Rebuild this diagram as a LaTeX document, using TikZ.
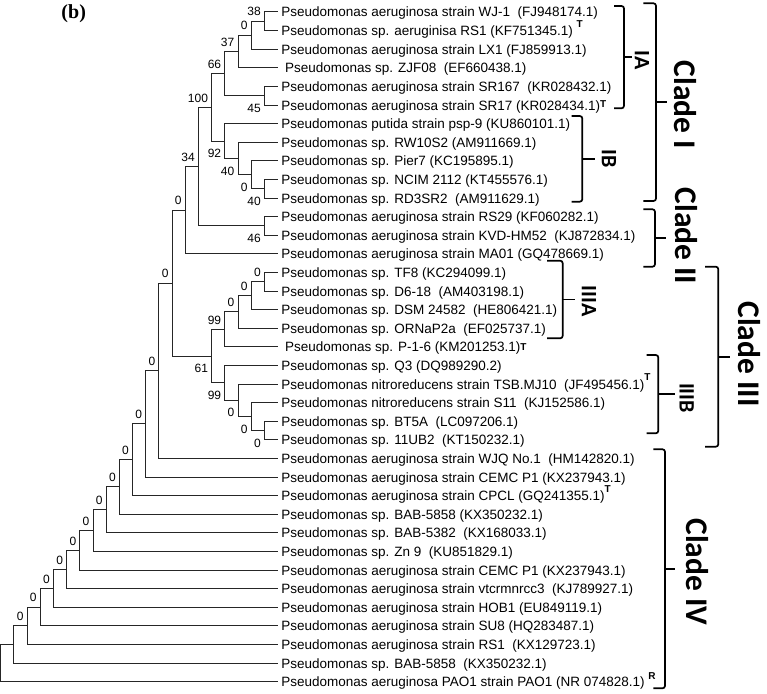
\documentclass[tikz,border=0pt]{standalone}
\usepackage{fontspec}
\setmainfont{Liberation Sans}
\newfontfamily\cladefont{Carlito}
\newfontfamily\panelfont{Liberation Serif}
\usetikzlibrary{calc}
\newcommand{\typemark}[2][8.5pt]{\raisebox{#1}{\fontsize{10}{10}\selectfont\bfseries #2}}

\begin{document}
\begin{tikzpicture}[
    x = 1pt, y = -1pt,
    branch/.style = {line width = 1pt, black!85},
    leaf/.style = {anchor = base west, inner sep = 0pt, xshift = 3.5pt, yshift = -5pt, font = \fontsize{13.5}{14}\selectfont},
    bsa/.style = {anchor = south east, inner sep = 0pt, xshift = -3.5pt, yshift = 5pt, font = \fontsize{12}{12}\selectfont},
    bsb/.style = {anchor = north east, inner sep = 0pt, xshift = -3.5pt, yshift = -8pt, font = \fontsize{12}{12}\selectfont},
    brk/.style = {line width = 1.7pt, rounded corners = 2.5pt},
    clade/.style = {rotate = -90, inner sep = 0pt, font = \cladefont\bfseries\fontsize{31.5}{32}\selectfont},
    sub/.style = {rotate = -90, inner sep = 0pt, font = \cladefont\bfseries\fontsize{22}{22}\selectfont},
]
\useasboundingbox (0,0) rectangle (767,693);

% tree: level on x, leaf row on y
\begin{scope}[xshift = 0.8pt, yshift = 6.6pt, x = 13.18pt, y = -18.6pt]
\foreach \i in {1,...,37} \coordinate (t\i) at (21,\i);
% clade I
\coordinate (n12) at (20,1.5);
\coordinate (n123) at (19,2.25);
\coordinate (n1234) at (18,3.125);
\coordinate (n56) at (20,5.5);
\coordinate (cIA) at (17,4.3125);
\coordinate (n1011) at (20,10.5);
\coordinate (n9) at (19,9.75);
\coordinate (n8) at (18,8.875);
\coordinate (cIB) at (17,7.9375);
\coordinate (cI) at (16,6.125);
% clade II
\coordinate (n1213) at (20,12.5);
\coordinate (n34) at (15,9.3125);
\coordinate (bA) at (14,11.65625);
% clade III
\coordinate (n1516) at (20,15.5);
\coordinate (n17) at (19,16.25);
\coordinate (n18) at (18,17.125);
\coordinate (cIIIA) at (17,18.0625);
\coordinate (n2324) at (20,23.5);
\coordinate (n22) at (19,22.75);
\coordinate (n21) at (18,21.875);
\coordinate (cIIIB) at (17,20.9375);
\coordinate (cIII) at (16,19.5);
% backbone
\coordinate (bB) at (13,15.578125);
\coordinate (bC) at (12,20.2890625);
\coordinate (bD) at (11,23.14453);
\coordinate (bE) at (10,25.07227);
\coordinate (bF) at (9,26.53613);
\coordinate (bG) at (8,27.76807);
\coordinate (bH) at (7,28.88403);
\coordinate (bI) at (6,29.94202);
\coordinate (bJ) at (5,30.97101);
\coordinate (bK) at (4,31.98550);
\coordinate (bL) at (3,32.99275);
\coordinate (bM) at (2,33.99638);
\coordinate (bN) at (1,34.99819);
\coordinate (root) at (0,35.99909);
\end{scope}

\foreach \p/\c in {n12/t1, n12/t2, n123/n12, n123/t3, n1234/n123, n1234/t4, n56/t5, n56/t6,
    cIA/n1234, cIA/n56, n1011/t10, n1011/t11, n9/t9, n9/n1011, n8/t8, n8/n9, cIB/t7, cIB/n8,
    cI/cIA, cI/cIB, n1213/t12, n1213/t13, n34/cI, n34/n1213, bA/n34, bA/t14,
    n1516/t15, n1516/t16, n17/n1516, n17/t17, n18/n17, n18/t18, cIIIA/n18, cIIIA/t19,
    n2324/t23, n2324/t24, n22/t22, n22/n2324, n21/t21, n21/n22, cIIIB/t20, cIIIB/n21,
    cIII/cIIIA, cIII/cIIIB, bB/bA, bB/cIII, bC/bB, bC/t25, bD/bC, bD/t26, bE/bD, bE/t27,
    bF/bE, bF/t28, bG/bF, bG/t29, bH/bG, bH/t30, bI/bH, bI/t31, bJ/bI, bJ/t32,
    bK/bJ, bK/t33, bL/bK, bL/t34, bM/bL, bM/t35, bN/bM, bN/t36, root/bN, root/t37}
    \draw[branch] (\p) |- (\c);

% bootstrap values
\node[bsa] (v1) at (n12) {38};
\node[bsa] (v2) at (n123) {0};
\node[bsa] (v3) at (n1234) {37};
\node[bsb] (v4) at (n56) {45};
\node[bsa] (v5) at (cIA) {66};
\node[bsb] (v6) at (n1011) {40};
\node[bsb] (v7) at (n9) {0};
\node[bsb] (v8) at (n8) {40};
\node[bsb] (v9) at (cIB) {92};
\node[bsa] (v10) at (cI) {100};
\node[bsb] (v11) at (n1213) {46};
\node[bsa] (v12) at (n34) {34};
\node[bsa] (v13) at (bA) {0};
\node[bsa] (v14) at (n1516) {0};
\node[bsa] (v15) at (n17) {0};
\node[bsa] (v16) at (n18) {0};
\node[bsa] (v17) at (cIIIA) {99};
\node[bsb] (v18) at (n2324) {0};
\node[bsb] (v19) at (n22) {0};
\node[bsb] (v20) at (n21) {0};
\node[bsb] (v21) at (cIIIB) {99};
\node[bsb] (v22) at (cIII) {61};
\foreach \b in {bB,bC,bD,bE,bF,bG,bH,bI,bJ,bK,bL,bM}
    \node[bsa] (v\b) at (\b) {0};

% strain names
\node[leaf] (l1) at (t1) {Pseudomonas aeruginosa strain WJ-1~ (FJ948174.1)};
\node[leaf] (l2) at (t2) {Pseudomonas sp. aeruginisa RS1 (KF751345.1) \typemark{T}};
\node[leaf] (l3) at (t3) {Pseudomonas aeruginosa strain LX1 (FJ859913.1)};
\node[leaf] (l4) at (t4) {~Pseudomonas sp. ZJF08~ (EF660438.1)};
\node[leaf] (l5) at (t5) {Pseudomonas aeruginosa strain SR167~ (KR028432.1)};
\node[leaf] (l6) at (t6) {Pseudomonas aeruginosa strain SR17 (KR028434.1)\typemark[3pt]{T}};
\node[leaf] (l7) at (t7) {Pseudomonas putida strain psp-9 (KU860101.1)};
\node[leaf] (l8) at (t8) {Pseudomonas sp. RW10S2 (AM911669.1)};
\node[leaf] (l9) at (t9) {Pseudomonas sp. Pier7 (KC195895.1)};
\node[leaf] (l10) at (t10) {Pseudomonas sp. NCIM 2112 (KT455576.1)};
\node[leaf] (l11) at (t11) {Pseudomonas sp. RD3SR2~ (AM911629.1)};
\node[leaf] (l12) at (t12) {Pseudomonas aeruginosa strain RS29 (KF060282.1)};
\node[leaf] (l13) at (t13) {Pseudomonas aeruginosa strain KVD-HM52~ (KJ872834.1)};
\node[leaf] (l14) at (t14) {Pseudomonas aeruginosa strain MA01 (GQ478669.1)};
\node[leaf] (l15) at (t15) {Pseudomonas sp. TF8 (KC294099.1)};
\node[leaf] (l16) at (t16) {Pseudomonas sp. D6-18~ (AM403198.1)};
\node[leaf] (l17) at (t17) {Pseudomonas sp. DSM 24582~ (HE806421.1)};
\node[leaf] (l18) at (t18) {Pseudomonas sp. ORNaP2a~ (EF025737.1)};
\node[leaf] (l19) at (t19) {~Pseudomonas sp. P-1-6 (KM201253.1)\typemark[1pt]{T}};
\node[leaf] (l20) at (t20) {Pseudomonas sp. Q3 (DQ989290.2)};
\node[leaf] (l21) at (t21) {Pseudomonas nitroreducens strain TSB.MJ10~ (JF495456.1)\typemark{T}};
\node[leaf] (l22) at (t22) {Pseudomonas nitroreducens strain S11~ (KJ152586.1)};
\node[leaf] (l23) at (t23) {Pseudomonas sp. BT5A~ (LC097206.1)};
\node[leaf] (l24) at (t24) {Pseudomonas sp. 11UB2~ (KT150232.1)};
\node[leaf] (l25) at (t25) {Pseudomonas aeruginosa strain WJQ No.1~ (HM142820.1)};
\node[leaf] (l26) at (t26) {Pseudomonas aeruginosa strain CEMC P1 (KX237943.1)};
\node[leaf] (l27) at (t27) {Pseudomonas aeruginosa strain CPCL (GQ241355.1)\typemark{T}};
\node[leaf] (l28) at (t28) {Pseudomonas sp. BAB-5858 (KX350232.1)};
\node[leaf] (l29) at (t29) {Pseudomonas sp. BAB-5382~ (KX168033.1)};
\node[leaf] (l30) at (t30) {Pseudomonas sp. Zn 9~ (KU851829.1)};
\node[leaf] (l31) at (t31) {Pseudomonas aeruginosa strain CEMC P1 (KX237943.1)};
\node[leaf] (l32) at (t32) {Pseudomonas aeruginosa strain vtcrmnrcc3~ (KJ789927.1)};
\node[leaf] (l33) at (t33) {Pseudomonas aeruginosa strain HOB1 (EU849119.1)};
\node[leaf] (l34) at (t34) {Pseudomonas aeruginosa strain SU8 (HQ283487.1)};
\node[leaf] (l35) at (t35) {Pseudomonas aeruginosa strain RS1~ (KX129723.1)};
\node[leaf] (l36) at (t36) {Pseudomonas sp. BAB-5858~ (KX350232.1)};
\node[leaf] (l37) at (t37) {Pseudomonas aeruginosa PAO1 strain PAO1 (NR 074828.1) \typemark[7.5pt]{R}};

% clade brackets: left x / right x / top / bottom / tick end
\foreach \xa/\xb/\ya/\yb/\xc in {614/624/6/108.3/631.7, 571.7/582.3/116/201.7/595,
    643.3/656/3.3/201/666.7, 643.3/655/209.3/266.7/666, 547/562.7/260.7/338.3/575,
    646.7/658.3/355/433.3/675, 705/718.3/266.7/446.7/730, 653.3/665/449.3/688.3/675} {
    \draw[brk] (\xa,\ya) -- (\xb,\ya) -- (\xb,\yb) -- (\xa,\yb);
    \draw[brk] (\xb,{(\ya+\yb)/2}) -- (\xc,{(\ya+\yb)/2});
}

\node[sub] (kIA) at (642,60) {IA};
\node[sub] (kIB) at (609,159) {IB};
\node[sub] (kIIIA) at (589,301) {IIIA};
\node[sub] (kIIIB) at (686.7,398) {IIIB};
\node[clade] (kI) at (685,105) {Clade I};
\node[clade] (kII) at (686.7,236) {Clade II};
\node[clade] (kIII) at (749,354) {Clade III};
\node[clade] (kIV) at (697.5,572) {Clade IV};

\node[font = \panelfont\bfseries\fontsize{20}{20}\selectfont] (panel) at (73.7,14) {(b)};
\end{tikzpicture}
\end{document}
